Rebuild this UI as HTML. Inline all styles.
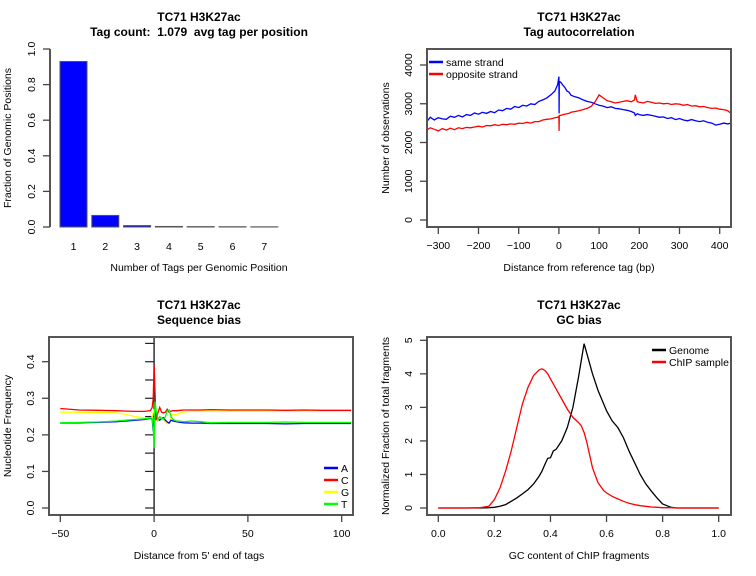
<!DOCTYPE html>
<html><head><meta charset="utf-8"><style>
body{margin:0;background:#fff}
svg{display:block;font-family:"Liberation Sans",sans-serif}
text{white-space:pre}
</style></head><body>
<svg id="s" width="756" height="576" viewBox="0 0 756 576" xml:space="preserve"></svg>
<script>
// ---- Panel 1 data
const p1Cats=[1,2,3,4,5,6,7];
const p1Vals=[0.93,0.065,0.008,0.003,0.002,0.0015,0.001];
const p1Ticks=[0,0.2,0.4,0.6,0.8,1.0];
// ---- Panel 2 data
const acX=[-327,-320,-310,-300,-290,-280,-270,-260,-250,-240,-230,-220,-210,-200,-190,-180,-170,-160,-150,-140,-130,-120,-110,-100,-90,-80,-70,-60,-50,-40,-30,-20,-10,-3,0,0.5,1,5,10,15,20,25,30,40,50,60,70,80,90,100,110,120,130,140,150,160,170,180,188,190,195,200,210,220,230,240,250,260,270,280,290,300,310,320,330,340,350,360,370,380,390,400,410,420,428];
const acSame=[2560,2650,2580,2640,2610,2600,2680,2650,2700,2660,2720,2700,2760,2730,2780,2750,2800,2770,2840,2820,2880,2860,2930,2900,2960,2940,3000,2980,3060,3100,3150,3230,3330,3500,3700,2750,3580,3550,3480,3420,3330,3300,3220,3180,3150,3100,3060,3040,3000,2960,2940,2900,2920,2880,2870,2850,2830,2800,2760,2700,2740,2720,2700,2720,2700,2680,2650,2660,2620,2640,2590,2620,2580,2560,2590,2560,2540,2560,2520,2500,2450,2470,2500,2480,2500];
const acOpp=[2330,2380,2340,2300,2360,2320,2370,2330,2380,2360,2390,2380,2400,2420,2400,2440,2430,2460,2440,2470,2460,2480,2470,2500,2490,2520,2500,2540,2540,2580,2600,2610,2640,2650,2680,2300,2700,2700,2720,2730,2740,2750,2780,2800,2820,2850,2880,2930,3050,3230,3150,3080,3050,3020,3040,3060,3080,3050,3100,3230,3050,3040,3020,3060,3040,3010,3020,3000,3010,2980,3000,2990,2960,2980,2940,2950,2920,2930,2900,2880,2890,2860,2850,2820,2750];
const acYTicks=[0,1000,2000,3000,4000];
const acXTicks=[-300,-200,-100,0,100,200,300,400];
// ---- Panel 3 data
const sbX=[-50,-40,-30,-20,-15,-10,-5,-2,-1,-0.5,0,0.5,1,2,3,4,5,6,7,8,9,10,12,14,16,20,25,30,40,50,60,70,80,90,100,105];
const sbA=[0.232,0.233,0.234,0.236,0.238,0.240,0.242,0.245,0.243,0.21,0.23,0.25,0.26,0.245,0.24,0.245,0.247,0.24,0.235,0.232,0.24,0.238,0.236,0.234,0.233,0.232,0.232,0.231,0.231,0.231,0.231,0.230,0.231,0.231,0.231,0.231];
const sbC=[0.272,0.268,0.267,0.266,0.265,0.264,0.264,0.266,0.275,0.30,0.39,0.32,0.24,0.26,0.275,0.262,0.26,0.262,0.27,0.262,0.265,0.266,0.266,0.267,0.268,0.268,0.268,0.269,0.268,0.268,0.268,0.267,0.268,0.267,0.267,0.267];
const sbG=[0.262,0.262,0.261,0.260,0.256,0.250,0.246,0.245,0.25,0.26,0.27,0.25,0.24,0.245,0.25,0.245,0.24,0.235,0.23,0.233,0.25,0.255,0.255,0.26,0.263,0.264,0.265,0.265,0.265,0.265,0.265,0.265,0.265,0.265,0.265,0.265];
const sbT=[0.233,0.234,0.235,0.238,0.240,0.242,0.244,0.246,0.245,0.22,0.165,0.29,0.27,0.24,0.25,0.245,0.243,0.25,0.265,0.268,0.25,0.242,0.238,0.237,0.236,0.238,0.236,0.233,0.234,0.234,0.234,0.235,0.234,0.234,0.234,0.234];
const sbYTicks=[0,0.1,0.2,0.3,0.4];
const sbXTicks=[-50,0,50,100];
// ---- Panel 4 data
const gcX=[0,0.1,0.15,0.18,0.2,0.22,0.24,0.26,0.28,0.3,0.32,0.34,0.36,0.37,0.38,0.39,0.4,0.41,0.42,0.44,0.46,0.48,0.5,0.51,0.52,0.53,0.55,0.57,0.59,0.6,0.62,0.64,0.66,0.68,0.7,0.72,0.74,0.76,0.78,0.8,0.83,0.85,0.9,1.0];
const gcGenome=[0,0,0,0.01,0.02,0.05,0.1,0.2,0.3,0.42,0.55,0.72,0.95,1.1,1.3,1.48,1.5,1.7,1.75,2.0,2.4,3.0,3.9,4.4,4.9,4.6,4.0,3.5,3.1,2.9,2.6,2.4,2.1,1.7,1.35,1.0,0.72,0.5,0.3,0.12,0.02,0,0,0];
const gcChip=[0,0,0.01,0.05,0.25,0.6,1.1,1.7,2.4,3.1,3.6,3.95,4.12,4.15,4.1,4.0,3.85,3.7,3.55,3.25,2.95,2.7,2.55,2.45,2.25,1.95,1.2,0.75,0.52,0.45,0.35,0.27,0.2,0.14,0.1,0.07,0.05,0.03,0.02,0.01,0.01,0,0,0];
const gcYTicks=[0,1,2,3,4,5];
const gcXTicks=[0,0.2,0.4,0.6,0.8,1.0];

const svg=document.getElementById('s');
const NS='http://www.w3.org/2000/svg';
function mk(tag,attrs,parent){const e=document.createElementNS(NS,tag);for(const k in attrs)e.setAttribute(k,attrs[k]);(parent||svg).appendChild(e);return e;}
function txt(x,y,s,o,parent){o=o||{};const e=mk('text',{x:x,y:y,'font-size':o.fs||11,'text-anchor':o.anchor||'middle',fill:'#000','font-weight':o.bold?'bold':'normal'},parent);if(o.rot)e.setAttribute('transform','rotate(-90 '+x+' '+y+')');e.textContent=s;return e;}
function lin(d0,d1,r0,r1){return v=>r0+(v-d0)*(r1-r0)/(d1-d0);}
function group(name){const g=mk('g',{});return g;}
function title(g,cx,l2,off){off=off||0;const a=txt(cx,21+off,'TC71 H3K27ac',{bold:true,fs:12},g);const b=txt(cx,36+off,l2,{bold:true,fs:12},g);}
function yaxis(g,x,ticks,ys,fmt){
  const ax=mk('line',{x1:x,x2:x,y1:ys(ticks[0]),y2:ys(ticks[ticks.length-1]),stroke:'#555','stroke-width':2},g);
  
  ticks.forEach(t=>{mk('line',{x1:x-7,x2:x,y1:ys(t),y2:ys(t),stroke:'#444','stroke-width':1.3},g);
    const l=txt(x-15,ys(t),fmt(t),{rot:true,fs:10.5},g);});
}
function xaxis(g,y,ticks,xs,fmt){
  ticks.forEach(t=>{mk('line',{x1:xs(t),x2:xs(t),y1:y,y2:y+7,stroke:'#444','stroke-width':1.3},g);
    const l=txt(xs(t),y+22,fmt(t),{fs:10.5},g);});
}
function box(g,x0,y0,x1,y1){const r=mk('rect',{x:x0,y:y0,width:x1-x0,height:y1-y0,fill:'none',stroke:'#555','stroke-width':2},g);}
function path(g,xs,ys,X,Y,col,name){let d='';X.forEach((v,i)=>{d+=(i?'L':'M')+xs(v).toFixed(1)+' '+ys(Y[i]).toFixed(1);});const p=mk('path',{d:d,fill:'none',stroke:col,'stroke-width':1.3},g);return p;}
function legend(g,x,y,items){items.forEach((it,i)=>{mk('line',{x1:x,x2:x+14,y1:y+i*12,y2:y+i*12,stroke:it[1],'stroke-width':2.5},g);const l=txt(x+17,y+i*12+4,it[0],{anchor:'start',fs:10.5},g);});}

// Panel 1
(function(){const g=group('tag-count-panel');title(g,199,'Tag count:  1.079  avg tag per position');
 const ys=lin(0,1,227,49);const xc=c=>73.5+(c-1)*31.8;
 p1Cats.forEach((c,i)=>{const b=mk('rect',{x:xc(c)-13.5,y:ys(p1Vals[i]),width:27,height:227-ys(p1Vals[i]),fill:'#0000ff',stroke:'#555','stroke-width':1},g);
  const l=txt(xc(c),250,String(c),{fs:10.5},g);});
 yaxis(g,50,p1Ticks,ys,t=>t.toFixed(1));
 const xl=txt(199,271,'Number of Tags per Genomic Position',{fs:10.5},g);
 const yl=txt(11,138,'Fraction of Genomic Positions',{fs:10.5,rot:true},g);
})();
// Panel 2
(function(){const g=group('autocorrelation-panel');title(g,579,'Tag autocorrelation');
 const xs=lin(-300,400,438.3,719.7),ys=lin(0,4000,220,65);
 path(g,xs,ys,acX,acOpp,'#ff0000','opposite-strand-line');
 path(g,xs,ys,acX,acSame,'#0000ff','same-strand-line');
 box(g,427,49,731,227);
 yaxis(g,427,acYTicks,ys,t=>String(t));xaxis(g,227,acXTicks,xs,t=>t<0?'\u2212'+(-t):String(t));
 legend(g,429,62,[['same strand','#0000ff'],['opposite strand','#ff0000']]);
 const xl=txt(579,271,'Distance from reference tag (bp)',{fs:10.5},g);
 const yl=txt(389,138,'Number of observations',{fs:10.5,rot:true},g);
})();
// Panel 3
(function(){const g=group('sequence-bias-panel');const off=288;title(g,199,'Sequence bias',off);
 const xs=lin(-50,100,60.3,341.7),ys=lin(0,0.4,220+off,73.7+off);
 mk('line',{x1:xs(0),x2:xs(0),y1:49+off,y2:227+off,stroke:'#333','stroke-width':1.5},g);
 for(let v=0;v<=0.45;v+=0.05){mk('line',{x1:xs(0)-9,x2:xs(0),y1:ys(v),y2:ys(v),stroke:'#222','stroke-width':1.2},g);}
 path(g,xs,ys,sbX,sbG,'#ffff00','g-line');path(g,xs,ys,sbX,sbC,'#ff0000','c-line');path(g,xs,ys,sbX,sbA,'#0000ff','a-line');path(g,xs,ys,sbX,sbT,'#00ff00','t-line');
 box(g,49,49+off,353,227+off);
 yaxis(g,49,sbYTicks,ys,t=>t.toFixed(1));xaxis(g,227+off,sbXTicks,xs,t=>t<0?'\u2212'+(-t):String(t));
 legend(g,324,180+off,[['A','#0000ff'],['C','#ff0000'],['G','#ffff00'],['T','#00ff00']]);
 const xl=txt(199,271+off,"Distance from 5' end of tags",{fs:10.5},g);
 const yl=txt(11,138+off,'Nucleotide Frequency',{fs:10.5,rot:true},g);
})();
// Panel 4
(function(){const g=group('gc-bias-panel');const off=288;title(g,579,'GC bias',off);
 const xs=lin(0,1,438.3,718.7),ys=lin(0,5,220+off,52.3+off);
 path(g,xs,ys,gcX,gcGenome,'#000000','genome-line');path(g,xs,ys,gcX,gcChip,'#ff0000','chip-sample-line');
 box(g,427,49+off,731,227+off);
 yaxis(g,427,gcYTicks,ys,t=>String(t));xaxis(g,227+off,gcXTicks,xs,t=>t.toFixed(1));
 legend(g,652,62+off,[['Genome','#000000'],['ChIP sample','#ff0000']]);
 const xl=txt(579,271+off,'GC content of ChIP fragments',{fs:10.5},g);
 const yl=txt(389,138+off,'Normalized Fraction of total fragments',{fs:10.5,rot:true},g);
})();
</script>
</body></html>
